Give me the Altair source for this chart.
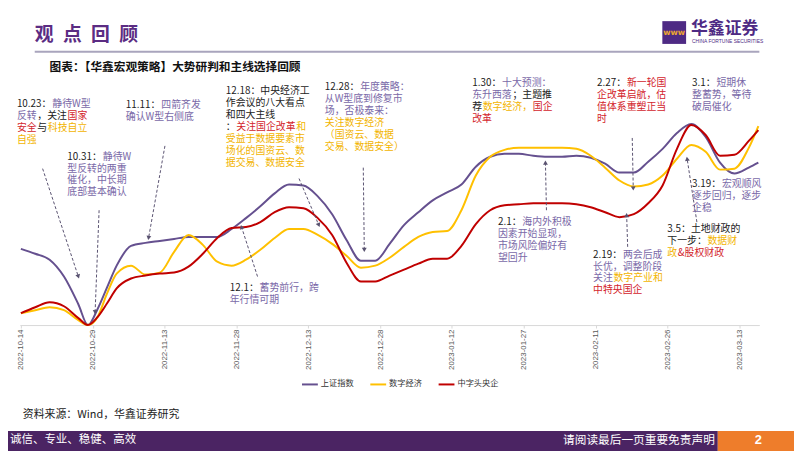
import math
import altair as alt
import pandas as pd

# ---------------- data ----------------
DATES = ["2022-10-14", "2022-10-17", "2022-10-20", "2022-10-23", "2022-10-26", "2022-10-28",
         "2022-10-30", "2022-11-01", "2022-11-03", "2022-11-06", "2022-11-09", "2022-11-12",
         "2022-11-15", "2022-11-18", "2022-11-21", "2022-11-24", "2022-11-27", "2022-11-30",
         "2022-12-03", "2022-12-06", "2022-12-09", "2022-12-12", "2022-12-15", "2022-12-18",
         "2022-12-21", "2022-12-24", "2022-12-27", "2022-12-30", "2023-01-02", "2023-01-05",
         "2023-01-08", "2023-01-11", "2023-01-14", "2023-01-17", "2023-01-20", "2023-01-23",
         "2023-01-26", "2023-01-29", "2023-02-01", "2023-02-04", "2023-02-07", "2023-02-10",
         "2023-02-13", "2023-02-16", "2023-02-19", "2023-02-22", "2023-02-25", "2023-02-28",
         "2023-03-03", "2023-03-06", "2023-03-09", "2023-03-12", "2023-03-15", "2023-03-17"]

SHANGHAI = [77, 72, 66, 49, 21, 0, 16, 38, 60, 80, 83, 85, 87, 89, 89, 89, 97, 108, 120, 133,
            142, 141, 130, 112, 86, 65, 65, 82, 101, 114, 126, 134, 142, 160, 170, 173, 173, 171,
            170, 170, 171, 169, 163, 154, 154, 165, 178, 194, 203, 190, 164, 153, 159, 164]
DIGITAL = [12, 15, 18, 15, 5, 0, 8, 32, 52, 60, 51, 53, 74, 91, 81, 64, 60, 66, 76, 88,
           97, 97, 91, 82, 70, 58, 60, 68, 79, 89, 94, 95, 116, 151, 170, 177, 179, 179,
           179, 179, 178, 171, 159, 146, 140, 142, 151, 168, 182, 175, 157, 158, 179, 201]
SOE = [12, 18, 23, 19, 7, 0, 8, 22, 37, 47, 50, 52, 53, 59, 72, 88, 98, 99, 104, 114,
       119, 118, 108, 91, 63, 44, 44, 50, 56, 62, 67, 67, 80, 102, 116, 121, 122, 123,
       123, 123, 122, 119, 114, 109, 112, 123, 141, 178, 202, 192, 171, 172, 186, 197]

SERIES = ["上证指数", "数字经济", "中字头央企"]
SERIES_COLORS = ["#65508F", "#FFC000", "#C00000"]

TICK_DATES = [(2022, 10, 14), (2022, 10, 29), (2022, 11, 13), (2022, 11, 28), (2022, 12, 13),
              (2022, 12, 28), (2023, 1, 12), (2023, 1, 27), (2023, 2, 11), (2023, 2, 26),
              (2023, 3, 13)]

TEXT_COLORS = {"k": "#222222", "p": "#7A69A8", "r": "#D3242C", "y": "#F2B400"}

ANNOTATIONS = [
    {"date": "2022-10-13T04:00:00", "value": 223, "lines": [
        [("10.23：", "k"), ("静待W型", "p")],
        [("反转", "p"), ("，关注", "k"), ("国家", "r")],
        [("安全", "r"), ("与", "k"), ("科技自立", "y")],
        [("自强", "y")]]},
    {"date": "2022-11-04T22:00:00", "value": 222, "lines": [
        [("11.11：", "k"), ("四箭齐发", "p")],
        [("确认W型右侧底", "p")]]},
    {"date": "2022-11-25T19:00:00", "value": 236, "lines": [
        [("12.18：中央经济工", "k")],
        [("作会议的八大看点", "k")],
        [("和四大主线", "k")],
        [("：", "k"), ("关注国企改革", "r"), ("和", "y")],
        [("受益于数据要素市", "y")],
        [("场化的国资云、数", "y")],
        [("据交易、数据安全", "y")]]},
    {"date": "2022-12-16T11:00:00", "value": 240, "lines": [
        [("12.28：", "k"), ("年度策略：", "p")],
        [("从W型底到修复市", "p")],
        [("场，否极泰来：", "p")],
        [("关注数字经济", "y")],
        [("（国资云、数据", "y")],
        [("交易、数据安全）", "y")]]},
    {"date": "2023-01-16T06:00:00", "value": 244, "lines": [
        [("1.30：", "k"), ("十大预测：", "p")],
        [("东升西落", "p"), ("；主题推", "k")],
        [("荐", "k"), ("数字经济，", "y"), ("国企", "r")],
        [("改革", "r")]]},
    {"date": "2023-02-11T07:30:00", "value": 244, "lines": [
        [("2.27：", "k"), ("新一轮国", "r")],
        [("企改革启航，估", "r")],
        [("值体系重塑正当", "r")],
        [("时", "r")]]},
    {"date": "2023-03-03T03:40:00", "value": 244, "lines": [
        [("3.1：", "k"), ("短期休", "p")],
        [("整蓄势，等待", "p")],
        [("破局催化", "p")]]},
    {"date": "2022-10-23T17:00:00", "value": 170, "lines": [
        [("10.31：", "k"), ("静待W", "p")],
        [("型反转的两重", "p")],
        [("催化，中长期", "p")],
        [("底部基本确认", "p")]]},
    {"date": "2022-11-26T14:40:00", "value": 37, "lines": [
        [("12.1：", "k"), ("蓄势前行，跨", "p")],
        [("年行情可期", "p")]]},
    {"date": "2023-01-21T15:00:00", "value": 104, "lines": [
        [("2.1：", "k"), ("海内外积极", "p")],
        [("因素开始显现，", "p")],
        [("市场风险偏好有", "p")],
        [("望回升", "p")]]},
    {"date": "2023-02-10T11:30:00", "value": 71, "lines": [
        [("2.19：", "k"), ("两会后成", "p")],
        [("长优，调整阶段", "p")],
        [("关注", "p"), ("数字产业和", "y")],
        [("中特央国企", "r")]]},
    {"date": "2023-03-03T03:40:00", "value": 142, "lines": [
        [("3.19：", "k"), ("宏观顺风", "p")],
        [("逐步回归，逐步", "p")],
        [("企稳", "p")]]},
    {"date": "2023-02-25T23:40:00", "value": 97, "lines": [
        [("3.5：土地财政的", "k")],
        [("下一步：", "k"), ("数据财", "y")],
        [("政", "y"), ("&股权财政", "r")]]},
]

ARROWS_FROM = [("2022-10-18T13:00:00", 158), ("2022-10-30T08:00:00", 116), ("2022-11-13T02:00:00", 181),
               ("2022-12-11T02:00:00", 148), ("2022-12-24T12:00:00", 159), ("2022-12-02T10:00:00", 49),
               ("2023-01-31T18:00:00", 116), ("2023-02-18T16:00:00", 189), ("2023-02-17T17:00:00", 79),
               ("2023-03-04T04:00:00", 104)]
ARROWS_TO = [("2022-10-26T00:00:00", 49), ("2022-10-29T12:00:00", 13), ("2022-11-09T16:00:00", 88),
             ("2022-12-15T05:00:00", 101), ("2022-12-24T17:00:00", 76), ("2022-11-29T02:00:00", 99),
             ("2023-01-31T13:00:00", 164), ("2023-02-18T21:00:00", 138), ("2023-02-17T12:00:00", 111),
             ("2023-03-02T03:00:00", 168)]

# ---------------- layout ----------------
PLOT_W, PLOT_H = 747, 266
X_START = pd.Timestamp("2022-10-13T19:00:00")
X_END = pd.Timestamp("2023-03-17T05:00:00")
Y_MAX = 266
PX_PER_DAY = PLOT_W / ((X_END - X_START) / pd.Timedelta(days=1))
PX_PER_UNIT = PLOT_H / Y_MAX
FS = 10
LINE_PITCH = 12
SEG_GAP = 0.6
CJK_FONT = "Noto Sans CJK SC"

x_scale = alt.Scale(domain=[alt.DateTime(year=2022, month=10, date=13, hours=19),
                            alt.DateTime(year=2023, month=3, date=17, hours=5)])
y_scale = alt.Scale(domain=[0, Y_MAX], nice=False, zero=False)
x_axis = alt.Axis(values=[alt.DateTime(year=y, month=m, date=d) for y, m, d in TICK_DATES],
                  format="%Y-%m-%d", labelAngle=270, labelFontSize=8, labelColor="#595959",
                  labelFont="Liberation Sans", domainColor="#D9D9D9", domainWidth=1,
                  tickColor="#D9D9D9", tickSize=3, labelPadding=1, grid=False, title=None,
                  labelOverlap=False)


def text_width(s, fs):
    w = 0.0
    for ch in s:
        if ord(ch) > 0x2E80:
            w += fs
        elif ch.isdigit():
            w += 0.56 * fs
        elif ch == ".":
            w += 0.28 * fs
        elif ch == "W":
            w += 0.9 * fs
        elif ch == "&":
            w += 0.7 * fs
        else:
            w += 0.55 * fs
    return w


def fmt(t):
    return t.strftime("%Y-%m-%dT%H:%M:%S")


# series table
rows = []
for name, vals in zip(SERIES, [SHANGHAI, DIGITAL, SOE]):
    for d, v in zip(DATES, vals):
        rows.append({"date": d + "T00:00:00", "value": v, "series": name})
df = pd.DataFrame(rows)

# annotation segments
seg = []
for blk in ANNOTATIONS:
    t0 = pd.Timestamp(blk["date"])
    for i, line in enumerate(blk["lines"]):
        off = 0.0
        for txt, key in line:
            t = t0 + pd.Timedelta(days=off / PX_PER_DAY)
            seg.append({"date": fmt(t), "value": blk["value"] - i * LINE_PITCH / PX_PER_UNIT,
                        "text": txt, "color": TEXT_COLORS[key]})
            off += text_width(txt, FS) + SEG_GAP
seg_df = pd.DataFrame(seg)

# arrows
arr = []
for (d0, v0), (d1, v1) in zip(ARROWS_FROM, ARROWS_TO):
    t0, t1 = pd.Timestamp(d0), pd.Timestamp(d1)
    dx = (t1 - t0) / pd.Timedelta(days=1) * PX_PER_DAY
    dy = -(v1 - v0) * PX_PER_UNIT
    ang = math.degrees(math.atan2(dx, -dy)) % 360
    arr.append({"date": d0, "y0": v0, "x1": d1, "y1": v1, "ang": ang})
arr_df = pd.DataFrame(arr)

DUMMY = pd.DataFrame({"k": [0]})

# ---------------- layers ----------------
lines = alt.Chart(df).mark_line(strokeWidth=2, interpolate="monotone").encode(
    x=alt.X("date:T", scale=x_scale, axis=x_axis),
    y=alt.Y("value:Q", scale=y_scale, axis=None),
    color=alt.Color("series:N", scale=alt.Scale(domain=SERIES, range=SERIES_COLORS),
                    legend=alt.Legend(orient="none", legendX=284, legendY=317, direction="horizontal",
                                      title=None, symbolType="stroke", symbolStrokeWidth=2,
                                      symbolSize=256, labelFontSize=8.3, labelFont=CJK_FONT,
                                      labelColor="#333333", columnPadding=12, labelOffset=2,
                                      padding=0)),
)

arrow_lines = alt.Chart(arr_df).mark_rule(strokeDash=[3, 2], strokeWidth=1, color="#595270").encode(
    x=alt.X("date:T", scale=x_scale, axis=x_axis), x2="x1:T",
    y=alt.Y("y0:Q", scale=y_scale, axis=None), y2="y1:Q")

arrow_heads = alt.Chart(arr_df).mark_point(shape="triangle-up", filled=True, size=24,
                                           color="#595270", opacity=1).encode(
    x=alt.X("x1:T", scale=x_scale, axis=x_axis),
    y=alt.Y("y1:Q", scale=y_scale, axis=None),
    angle=alt.Angle("ang:Q", scale=None))

notes = alt.Chart(seg_df).mark_text(align="left", baseline="middle", fontSize=FS, font=CJK_FONT).encode(
    x=alt.X("date:T", scale=x_scale, axis=x_axis),
    y=alt.Y("value:Q", scale=y_scale, axis=None),
    text="text:N",
    color=alt.Color("color:N", scale=None))


def deco_text(txt, x, y, **kw):
    return alt.Chart(DUMMY).mark_text(text=txt, **kw).encode(x=alt.value(x), y=alt.value(y))


def deco_rect(x, x2, y, y2, color):
    return alt.Chart(DUMMY).mark_rect(color=color).encode(
        x=alt.value(x), x2=alt.value(x2), y=alt.value(y), y2=alt.value(y2))


EN = "\u2002"
decor = [
    deco_text(EN.join("观点回顾"), 15, -27, align="left", baseline="middle", fontSize=19,
              fontWeight="bold", color="#5B2C83", font=CJK_FONT),
    alt.Chart(DUMMY).mark_rule(color="#A9A5BD", strokeWidth=2).encode(
        x=alt.value(15), x2=alt.value(747), y=alt.value(-10)),
    deco_rect(649, 673, -41, -18, "#4E2A84"),
    deco_text("www", 661, -29, align="center", baseline="middle", fontSize=8, fontWeight="bold",
              color="#F0A830", font="DejaVu Sans"),
    deco_text("华鑫证券", 678, -33, align="left", baseline="middle", fontSize=17, fontWeight="bold",
              color="#4E2A84", font=CJK_FONT),
    deco_text("CHINA FORTUNE SECURITIES", 679, -21, align="left", baseline="middle", fontSize=5,
              color="#4E2A84", font="Liberation Sans"),
    deco_text("图表：【华鑫宏观策略】大势研判和主线选择回顾", 30, 5, align="left", baseline="middle",
              fontSize=11.8, fontWeight="bold", color="#111111", font=CJK_FONT),
    deco_text("资料来源：Wind，华鑫证券研究", 3, 357, align="left", baseline="middle", fontSize=11,
              color="#222222", font=CJK_FONT),
    deco_rect(-12, 705, 373, 395, "#4B2463"),
    deco_rect(705, 790, 373, 395, "#EE7D2B"),
    deco_text("诚信、专业、稳健、高效", -10, 382, align="left", baseline="middle", fontSize=11.6,
              color="#FFFFFF", font=CJK_FONT),
    deco_text("请阅读最后一页重要免责声明", 702, 382, align="right", baseline="middle", fontSize=11.8,
              color="#FFFFFF", font=CJK_FONT),
    deco_text("2", 746, 382, align="center", baseline="middle", fontSize=13, fontWeight="bold",
              color="#FFFFFF", font="Liberation Sans"),
]

chart = alt.layer(lines, arrow_lines, arrow_heads, notes, *decor).properties(
    width=PLOT_W, height=PLOT_H,
    padding={"left": 12, "top": 52, "right": 35, "bottom": 130},
    autosize=alt.AutoSizeParams(type="none"),
    background="#FFFFFF",
).configure_view(stroke=None)

chart.save("out.html", embed_options={"renderer": "svg", "actions": False})
